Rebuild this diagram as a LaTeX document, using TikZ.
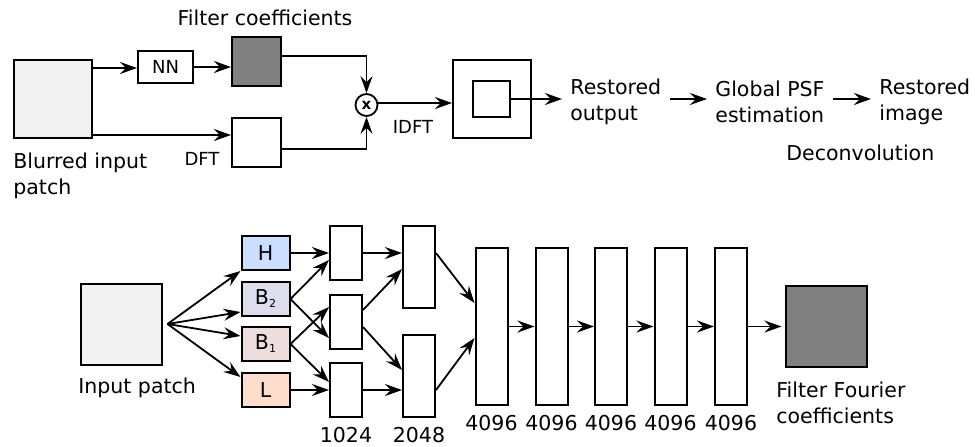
\documentclass[tikz,border=0pt]{standalone}
\usepackage{fontspec}
\setmainfont{DejaVu Sans}
\usetikzlibrary{arrows.meta,calc}

\definecolor{hfill}{RGB}{204,222,255}
\definecolor{btwofill}{RGB}{221,221,238}
\definecolor{bonefill}{RGB}{238,221,221}
\definecolor{lfill}{RGB}{255,221,204}

\newcommand{\bandsub}[1]{\raisebox{-1.5pt}{\fontsize{5.5}{6}\selectfont #1}}

\begin{document}
\begin{tikzpicture}[
    x=0.5pt, y=-0.5pt,
    font=\fontsize{10.25}{13}\selectfont,
    patch/.style={draw, rectangle, line width=1pt, fill=black!5, minimum width=#1, minimum height=#1, inner sep=0pt},
    coef/.style={draw, rectangle, line width=1pt, fill=black!50, minimum width=#1, minimum height=#1, inner sep=0pt},
    plain/.style={draw, rectangle, line width=1pt, fill=white, inner sep=0pt},
    band/.style={draw, rectangle, line width=1pt, minimum width=24pt, minimum height=17pt, inner sep=0pt},
    layer/.style={draw, rectangle, line width=1pt, fill=white, minimum width=16pt, minimum height=#1, inner sep=0pt},
    lbl/.style={inner sep=0pt, align=left},
    small/.style={inner sep=0pt, font=\fontsize{9}{11}\selectfont},
    stage/.style={inner sep=4pt, align=left},
    arrow/.style={-{Stealth[length=8.5pt, width=6pt, inset=3pt]}, line width=0.9pt}
]
\useasboundingbox (0,0) rectangle (975,446);

    % Deconvolution pipeline
    \node[patch=39pt] (blur) at (52.5,99) {};
    \node[lbl, anchor=base west] (blurlbl) at (13,194) {Blurred input\\patch};
    \node[plain, small, minimum width=27.5pt, minimum height=16pt] (nn) at (165.5,67) {NN};
    \node[coef=24.5pt] (fc) at (256.5,61.5) {};
    \node[lbl, anchor=base] (fclbl) at (265,25) {Filter coefficients};
    \node[plain, minimum width=24.5pt, minimum height=24.5pt] (dft) at (256.5,142.5) {};
    \node[small, anchor=base] (dftlbl) at (202,165) {DFT};
    \node[draw, circle, line width=0.9pt, minimum size=11pt, inner sep=0pt, font=\fontsize{7.5}{8}\selectfont\bfseries] (mult) at (366.5,105) {x};
    \node[small, anchor=base] (idftlbl) at (413,133) {IDFT};
    \node[plain, minimum width=39pt, minimum height=39pt] (idft) at (492,99) {};
    \node[plain, minimum width=18.5pt, minimum height=18pt] (crop) at (491.5,99) {};

    \node[stage, anchor=base west] (rout) at (562,120) {Restored\\output};
    \node[stage, anchor=base west] (gpsf) at (707,122) {Global PSF\\estimation};
    \node[stage, anchor=base west] (rimg) at (871,120) {Restored\\image};
    \node[lbl, anchor=base west] (deconv) at (786,160) {Deconvolution};

    \draw[arrow] ($(blur.north east)+(0,9)$) -- (nn.west |- {$(blur.north east)+(0,9)$});
    \draw[arrow] (nn.east) -- (nn.east -| fc.west);
    \draw[arrow] ($(blur.south east)+(0,-4)$) -- (dft.west |- {$(blur.south east)+(0,-4)$});
    \draw[arrow] ($(fc.north east)+(0,20)$) -| (mult.north);
    \draw[arrow] ($(dft.south east)+(0,-19)$) -| (mult.south);
    \draw[arrow] ($(mult.east)+(0,-2)$) -- (idft.west |- {$(mult.east)+(0,-2)$});
    \draw[arrow] (crop.east) -- (crop.east -| rout.west);
    \draw[arrow] (rout.east |- crop.east) -- (gpsf.west |- crop.east);
    \draw[arrow] (gpsf.east |- crop.east) -- (rimg.west |- crop.east);

    % Network
    \node[patch=40.5pt] (inp) at (121,324) {};
    \node[lbl, anchor=base west] (inplbl) at (78,393) {Input patch};
    \coordinate (fan) at ($(inp.east)+(5,0)$);

    \node[band, fill=hfill] (h) at (265.5,253) {H};
    \node[band, fill=btwofill] (b2) at (265.5,299) {B\bandsub{2}};
    \node[band, fill=bonefill] (b1) at (265.5,344) {B\bandsub{1}};
    \node[band, fill=lfill] (l) at (265.5,390) {L};

    \node[layer=27pt] (ha) at (346,253) {};
    \node[layer=27pt] (hb) at (346,321.5) {};
    \node[layer=27pt] (hc) at (346,390) {};
    \node[layer=41pt] (ga) at (419,267) {};
    \node[layer=41pt] (gb) at (419,375.5) {};
    \node[lbl, anchor=base] (nha) at (346,442) {1024};
    \node[lbl, anchor=base] (nga) at (419,442) {2048};

    \foreach \i/\x in {1/491.5, 2/551.5, 3/611, 4/670.5, 5/731} {
        \node[layer=78.5pt] (f\i) at (\x,326.5) {};
        \node[lbl, anchor=base] (nf\i) at (\x,430) {4096};
    }

    \node[coef=40.5pt] (out) at (826,326.5) {};
    \node[lbl, anchor=base west] (outlbl) at (776,423) {Filter Fourier\\coefficients};

    \draw[arrow] (fan) -- (h.south west);
    \draw[arrow] (fan) -- ($(b2.west)+(0,13)$);
    \draw[arrow] (fan) -- ($(b1.west)+(0,-8)$);
    \draw[arrow] (fan) -- ($(l.west)+(0,-13)$);

    \draw[arrow] (h.east) -- (ha.west);
    \draw[arrow] (b2.east) -- ($(ha.west)+(0,7)$);
    \draw[arrow] (b2.east) -- ($(hb.west)+(0,16.5)$);
    \draw[arrow] (b1.east) -- ($(hb.west)+(0,-14.5)$);
    \draw[arrow] (b1.east) -- ($(hc.west)+(0,-8)$);
    \draw[arrow] (l.east) -- (hc.west);

    \draw[arrow] (ha.east) -- (ha.east -| ga.west);
    \draw[arrow] ($(hb.east)+(0,-11.5)$) -- ($(ga.west)+(0,2)$);
    \draw[arrow] ($(hb.east)+(0,5.5)$) -- ($(gb.west)+(0,-5.5)$);
    \draw[arrow] (hc.east) -- (hc.east -| gb.west);

    \draw[arrow] ($(ga.east)+(0,-14)$) -- ($(f1.west)+(0,-23.5)$);
    \draw[arrow] ($(gb.east)+(0,14.5)$) -- ($(f1.west)+(0,11.5)$);

    \foreach \i/\j in {1/2, 2/3, 3/4, 4/5} {
        \draw[arrow] (f\i.east) -- (f\j.west);
    }
    \draw[arrow] (f5.east) -- ($(out.west)+(-3,0)$);

\end{tikzpicture}
\end{document}
